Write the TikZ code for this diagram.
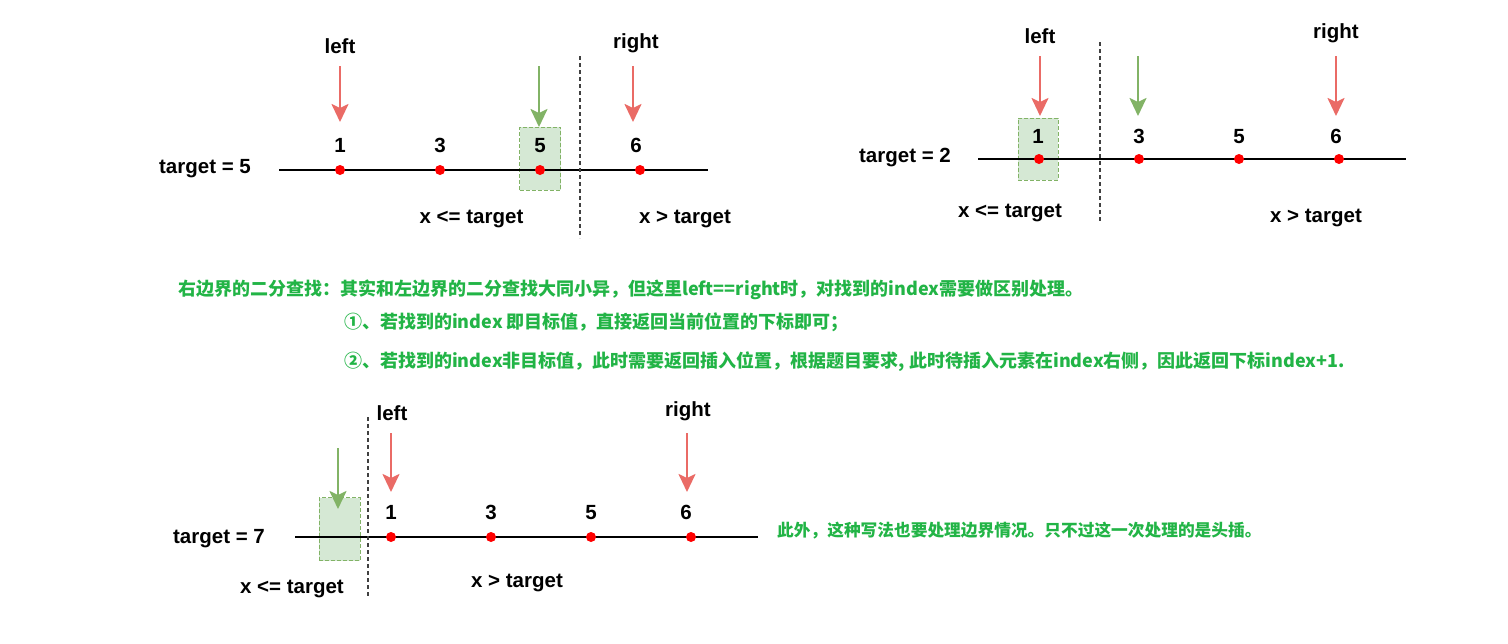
\documentclass[tikz,border=0pt]{standalone}
\usepackage{fontspec}
\setmainfont{Liberation Sans}
\newfontfamily\cjk{Noto Sans CJK SC}
\usetikzlibrary{arrows.meta}
\definecolor{redarr}{HTML}{EA6B66}
\definecolor{grnarr}{HTML}{82B366}
\definecolor{grnfill}{HTML}{D5E8D4}
\definecolor{txtgreen}{RGB}{34,180,70}
\tikzset{
  lbl/.style={font=\fontsize{20.5}{22}\selectfont\bfseries, inner sep=0pt, anchor=base},
  ptr/.style={draw=redarr, line width=2.4pt, -{Stealth[length=18pt,width=17pt,inset=4pt]}},
  gptr/.style={draw=grnarr, line width=2.4pt, -{Stealth[length=18pt,width=17pt,inset=4pt]}},
  dot/.style={circle, fill=red, draw=none, inner sep=0pt, minimum size=10pt},
  axisline/.style={line width=2pt, draw=black},
  sep/.style={draw=black!75, line width=1.2pt, dash pattern=on 4pt off 3pt},
  hl/.style={draw=grnarr, fill=grnfill, dash pattern=on 4pt off 2pt, line width=1pt, inner sep=0pt, minimum width=41pt, minimum height=63pt},
  note/.style={font=\cjk\bfseries\fontsize{18}{20}\selectfont, text=txtgreen, anchor=base west, inner sep=0pt},
}
\begin{document}
\begin{tikzpicture}[x=1pt,y=-1pt]
\useasboundingbox (0,0) rectangle (1508,643);

% ---------------- Diagram 1 ----------------
\node[hl] (b1) at (540,158.5) {};
\coordinate (a1s) at (279,170); \coordinate (a1e) at (708,170);
\draw[axisline] (a1s) -- (a1e);
\node[dot] (d11) at (340,170) {};
\node[dot] (d12) at (440,170) {};
\node[dot] (d13) at (540,170) {};
\node[dot] (d14) at (640,170) {};
\node[lbl] (n11) at (340,152.5) {1};
\node[lbl] (n12) at (440,152.5) {3};
\node[lbl] (n13) at (540,152.5) {5};
\node[lbl] (n14) at (636,152.5) {6};
\node[lbl] (t1) at (205,173) {target = 5};
\node[lbl] (left1) at (340,53.5) {left};
\node[lbl] (right1) at (636,48) {right};
\coordinate (p1s) at (340,66); \coordinate (p1e) at (340,122);
\coordinate (q1s) at (633,66); \coordinate (q1e) at (633,122);
\coordinate (g1s) at (539,66); \coordinate (g1e) at (539,127);
\draw[ptr] (p1s) -- (p1e);
\draw[ptr] (q1s) -- (q1e);
\draw[gptr] (g1s) -- (g1e);
\coordinate (s1a) at (580,56); \coordinate (s1b) at (580,238);
\draw[sep] (s1a) -- (s1b);
\node[lbl] (le1) at (471.5,223) {x <= target};
\node[lbl] (gt1) at (685,223) {x > target};

% ---------------- Diagram 2 ----------------
\node[hl, minimum width=40pt, minimum height=62pt] (b2) at (1038,149) {};
\coordinate (a2s) at (978,159); \coordinate (a2e) at (1406,159);
\draw[axisline] (a2s) -- (a2e);
\node[dot] (d21) at (1039,159) {};
\node[dot] (d22) at (1139,159) {};
\node[dot] (d23) at (1239,159) {};
\node[dot] (d24) at (1339,159) {};
\node[lbl] (n21) at (1038,143.5) {1};
\node[lbl] (n22) at (1139,143.5) {3};
\node[lbl] (n23) at (1239,143.5) {5};
\node[lbl] (n24) at (1336,143.5) {6};
\node[lbl] (t2) at (905,162) {target = 2};
\node[lbl] (left2) at (1040,43.5) {left};
\node[lbl] (right2) at (1336,38) {right};
\coordinate (p2s) at (1040,56); \coordinate (p2e) at (1040,116);
\coordinate (q2s) at (1336,56); \coordinate (q2e) at (1336,116);
\coordinate (g2s) at (1138,56); \coordinate (g2e) at (1138,116);
\draw[ptr] (p2s) -- (p2e);
\draw[ptr] (q2s) -- (q2e);
\draw[gptr] (g2s) -- (g2e);
\coordinate (s2a) at (1100,42); \coordinate (s2b) at (1100,222);
\draw[sep] (s2a) -- (s2b);
\node[lbl] (le2) at (1010,217) {x <= target};
\node[lbl] (gt2) at (1316,222) {x > target};

% ---------------- Notes ----------------
\node[note] (m1) at (178,295.5) {右边界的二分查找：其实和左边界的二分查找大同小异，但这里left==right时，对找到的index需要做区别处理。};
\node[note] (m2) at (344,328.5) {①、若找到的index 即目标值，直接返回当前位置的下标即可；};
\node[note] (m3) at (344,367.5) {②、若找到的index非目标值，此时需要返回插入位置，根据题目要求, 此时待插入元素在index右侧，因此返回下标index+1.};

% ---------------- Diagram 3 ----------------
\node[hl] (b3) at (339.5,529) {};
\coordinate (a3s) at (295,537); \coordinate (a3e) at (758,537);
\draw[axisline] (a3s) -- (a3e);
\node[dot] (d31) at (391,537) {};
\node[dot] (d32) at (491,537) {};
\node[dot] (d33) at (591,537) {};
\node[dot] (d34) at (691,537) {};
\node[lbl] (n31) at (391,519.5) {1};
\node[lbl] (n32) at (491,519.5) {3};
\node[lbl] (n33) at (591,519.5) {5};
\node[lbl] (n34) at (686,519.5) {6};
\node[lbl] (t3) at (219,543) {target = 7};
\node[lbl] (left3) at (392,420.5) {left};
\node[lbl] (right3) at (688,416) {right};
\coordinate (p3s) at (391,433); \coordinate (p3e) at (391,492);
\coordinate (q3s) at (687,433); \coordinate (q3e) at (687,492);
\coordinate (g3s) at (338,448); \coordinate (g3e) at (338,509);
\draw[ptr] (p3s) -- (p3e);
\draw[ptr] (q3s) -- (q3e);
\draw[gptr] (g3s) -- (g3e);
\coordinate (s3a) at (368,417); \coordinate (s3b) at (368,598);
\draw[sep] (s3a) -- (s3b);
\node[lbl] (le3) at (292,593) {x <= target};
\node[lbl] (gt3) at (517,587) {x > target};

\node[note, font=\cjk\bfseries\fontsize{16.7}{20}\selectfont] (m4) at (777,536) {此外，这种写法也要处理边界情况。只不过这一次处理的是头插。};
\end{tikzpicture}
\end{document}
